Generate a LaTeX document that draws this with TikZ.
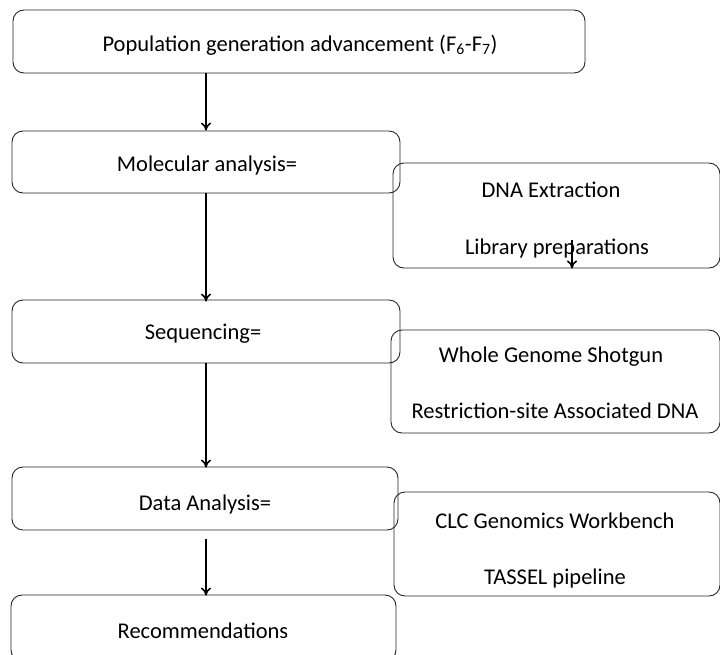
\documentclass[tikz,border=0pt]{standalone}
\usepackage{fontspec}
\setmainfont{Carlito}
\usetikzlibrary{arrows.meta}
\begin{document}
\begin{tikzpicture}[x=1pt,y=-1pt,
  box/.style={draw=black!85,line width=0.9pt,rounded corners=11pt,inner sep=0pt},
  lbl/.style={font=\fontsize{22.5}{26}\selectfont,inner sep=0pt,anchor=center},
  flow/.style={line width=1.8pt,-{To[length=8pt,width=10pt,line width=1.6pt]}}]
\useasboundingbox (0,0) rectangle (720,654);
% main column
\node[box,minimum width=572pt,minimum height=63pt] (pop) at (299,41.5) {};
\node[box,minimum width=388pt,minimum height=62pt] (mol) at (206,162) {};
\node[box,minimum width=388pt,minimum height=63pt] (seq) at (206,331.5) {};
\node[box,minimum width=386pt,minimum height=63pt] (dat) at (205,498.5) {};
\node[box,minimum width=385pt,minimum height=66pt] (rec) at (203.5,628) {};
% side boxes
\node[box,minimum width=327pt,minimum height=105pt] (dna) at (556.5,215.5) {};
\node[box,minimum width=329pt,minimum height=103pt] (wgs) at (555.5,381.5) {};
\node[box,minimum width=326pt,minimum height=104pt] (clc) at (557,544) {};
% labels
\node[lbl] (tpop) at (300,45) {Population generation advancement (F\textsubscript{6}-F\textsubscript{7})};
\node[lbl] (tmol) at (207,165) {Molecular analysis=};
\node[lbl] (tseq) at (203,334) {Sequencing=};
\node[lbl] (tdat) at (205,504) {Data Analysis=};
\node[lbl] (trec) at (203,631) {Recommendations};
\node[lbl] (tdna) at (551,190) {DNA Extraction};
\node[lbl] (tlib) at (557,248) {Library preparations};
\node[lbl] (twgs) at (551,357) {Whole Genome Shotgun};
\node[lbl] (trad) at (555,411) {Restriction-site Associated DNA};
\node[lbl] (tclc) at (555,521) {CLC Genomics Workbench};
\node[lbl] (ttas) at (555,578) {TASSEL pipeline};
% connectors
\coordinate (a1) at (206,0);
\draw[flow] (pop.south -| a1) -- (mol.north -| a1);
\draw[flow] (mol.south -| a1) -- ([yshift=-2pt]seq.north -| a1);
\draw[flow] (seq.south -| a1) -- ([yshift=-1pt]dat.north -| a1);
\draw[flow,shorten <=9pt] (dat.south -| a1) -- ([yshift=-1pt]rec.north -| a1);
\coordinate (lib) at (572,240);
\draw[flow,line width=1.4pt] (lib) -- (dna.south -| lib);
\end{tikzpicture}
\end{document}
